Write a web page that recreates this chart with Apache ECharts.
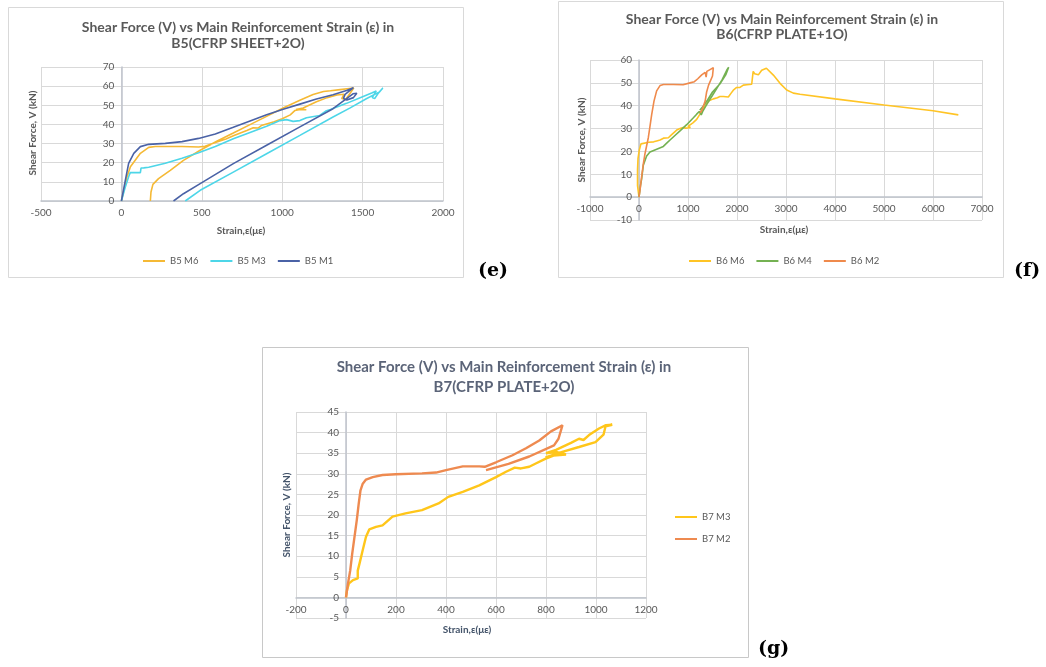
<!DOCTYPE html>
<html>
<head>
<meta charset="utf-8">
<script src="https://cdn.jsdelivr.net/npm/echarts@6/dist/echarts.min.js"></script>
<style>
html,body{margin:0;padding:0;background:#fff;}
#c{width:1046px;height:667px;}
</style>
</head>
<body>
<div id="c"></div>
<script>
// ---------- Panel (e): B5 (CFRP SHEET+2O) ----------
const titleE = "Shear Force (V) vs Main Reinforcement Strain (ε) in\nB5(CFRP SHEET+2O)";
const namesE = ["B5 M6", "B5 M3", "B5 M1"];
const b5M6 = [[0,0],[35,12.7],[56,17.9],[87,21.4],[118,24.9],[170,28],[211,28.5],[300,28.5],[377,28.5],[480,28.2],[520,28.6],[584,30.5],[650,32.4],[700,34.2],[780,36.8],[820,38.3],[850,38.1],[870,39.4],[950,41.4],[1000,43],[1050,45],[1080,47.3],[1120,47.9],[1150,47.7],[1085,47.8],[1130,48.6],[1213,51.8],[1280,54],[1340,55.4],[1385,55.8],[1370,53.5],[1395,53],[1420,56],[1445,59],[1433,58.9],[1360,58.2],[1300,57.6],[1257,57.2],[1192,55.6],[1110,52.6],[1006,48.6],[903,44.2],[800,39.9],[696,35.5],[593,31.2],[490,26.5],[386,21.2],[304,16],[231,11.7],[196,8.7],[184,4.7],[180,0]];
const b5M3 = [[0,0],[25,7.5],[45,12.7],[55,14.8],[87,14.8],[118,14.8],[122,17.2],[128,16.9],[139,17.3],[170,17.6],[273,19.7],[377,22.3],[480,25.2],[584,28.5],[696,32.5],[800,35.8],[903,39],[986,42],[1027,42.5],[1068,41.6],[1110,42],[1151,43.5],[1233,44.7],[1275,47.2],[1300,47.8],[1400,51],[1500,54.5],[1560,56.5],[1585,57.5],[1560,54],[1575,53.5],[1595,56],[1626,59],[1605,57],[1523,53.4],[1420,48.5],[1316,43.9],[1110,34.3],[903,24.7],[696,15.1],[490,5.6],[397,0]];
const b5M1 = [[0,0],[25,11],[45,19.7],[77,24.9],[118,28.4],[170,29.6],[273,30.1],[377,31],[480,32.7],[584,35],[696,38.5],[800,41.8],[903,45],[1006,47.9],[1110,50.6],[1213,53.3],[1316,55.5],[1400,57.7],[1443,59.2],[1391,55.7],[1381,53.6],[1402,52.8],[1443,54],[1464,56.3],[1454,57],[1440,56],[1316,48.2],[1110,38.7],[903,29.1],[696,19.5],[490,9.1],[386,3.8],[324,0]];

// ---------- Panel (f): B6 (CFRP PLATE+1O) ----------
const titleF = "Shear Force (V) vs Main Reinforcement Strain (ε) in\nB6(CFRP PLATE+1O)";
const namesF = ["B6 M6", "B6 M4", "B6 M2"];
const b6M6 = [[0,0],[-30,5],[-30,12],[-20,17],[5,20.5],[40,23.3],[80,24],[200,24],[300,24.2],[360,24.6],[430,25],[500,25.8],[600,26],[650,27],[701,28],[780,29.5],[837,30],[900,30.5],[950,30.2],[1050,30.5],[1000,31],[1100,32.5],[1177,34],[1279,37.5],[1347,39.8],[1415,42],[1517,43],[1600,43.5],[1650,44],[1721,44],[1823,43.8],[1880,45.5],[1925,46.8],[1993,48],[2061,48],[2129,49],[2200,49.2],[2300,49.4],[2333,49.6],[2330,55],[2360,54],[2390,53.5],[2436,53.5],[2504,55.5],[2600,56.4],[2640,56.7],[2742,53.4],[2878,49.8],[3014,46.9],[3150,45.5],[3286,45],[4000,43],[5000,40.3],[6000,37.8],[6517,36]];
const b6M4 = [[0,0],[30,5],[54,8],[88,14],[130,16.5],[156,18],[224,19.8],[361,21],[497,22.2],[560,23.5],[633,25],[750,27.3],[837,29],[973,31.7],[1100,34.5],[1177,36.3],[1230,37.5],[1270,36],[1300,37.5],[1381,40.5],[1500,44.5],[1585,47.5],[1700,51.5],[1790,55.5],[1830,56.8],[1770,53.5],[1650,49.5],[1500,46],[1400,42.5],[1300,39.5],[1240,38]];
const b6M2 = [[0,0],[20,3],[54,9],[88,14.5],[122,19],[156,22.5],[190,26],[224,31],[258,36],[306,42],[360,46.5],[429,48.8],[500,49.3],[700,49.3],[900,49.2],[1041,50],[1130,50.5],[1200,51.8],[1280,53.5],[1350,54.6],[1370,52.5],[1385,55],[1449,55.8],[1517,56.6],[1535,56.5],[1500,53],[1420,49],[1380,46],[1350,42],[1300,39],[1270,37.5],[1240,37]];

// ---------- Panel (g): B7 (CFRP PLATE+2O) ----------
const titleG = "Shear Force (V) vs Main Reinforcement Strain (ε) in\nB7(CFRP PLATE+2O)";
const namesG = ["B7 M3", "B7 M2"];
const b7M3 = [[0,0],[4,1.8],[12,3.4],[28,4.2],[47,4.6],[53,4.8],[47,6.5],[54,8.2],[67,11.5],[80,14.7],[93,16.5],[120,17.1],[146,17.5],[186,19.6],[238,20.4],[304,21.2],[370,22.8],[409,24.4],[467,25.6],[533,27.2],[600,29.2],[640,30.5],[675,31.5],[700,31.3],[733,31.7],[759,32.5],[799,33.7],[830,34.4],[880,34.7],[840,35.3],[800,35],[840,35.8],[900,37.5],[932,38.5],[950,38.2],[972,39.4],[1012,41],[1040,41.8],[1065,41.9],[1038,41.5],[1030,39.5],[998,37.7],[932,36.5],[865,35.3],[798,34]];
const b7M2 = [[0,0],[8,3.4],[17,6.6],[25,10.7],[34,14.7],[43,18.7],[51,22.8],[58,26],[67,27.6],[80,28.6],[107,29.2],[146,29.7],[199,29.9],[304,30.1],[360,30.3],[400,30.9],[467,31.8],[533,31.8],[555,31.7],[600,32.8],[666,34.5],[720,36.2],[773,38.1],[820,40.3],[866,41.8],[850,38.5],[832,36.9],[733,34.2],[650,32.4],[560,30.9]];

const axisNameX = "Strain,ε(με)";
const axisNameY = "Shear Force, V (kN)";

const FONT = "Lato";
const TXT = "#595959";
const GRID = "#D9D9D9";
const AXL = "#BFC3CC";

function xAx(gi, min, max, itv, off) {
  return {
    type: 'value', gridIndex: gi, min: min, max: max, interval: itv, offset: off,
    axisLine: {show: true, onZero: false, lineStyle: {color: AXL, width: 1.5}},
    axisTick: {show: false},
    axisLabel: {fontFamily: FONT, fontSize: 10, color: TXT, margin: 7, formatter: v => String(v)},
    splitLine: {show: true, lineStyle: {color: GRID, width: 1}}
  };
}
function yAx(gi, min, max, itv, off) {
  return {
    type: 'value', gridIndex: gi, min: min, max: max, interval: itv, offset: off,
    axisLine: {show: true, onZero: false, lineStyle: {color: AXL, width: 1.5}},
    axisTick: {show: false},
    axisLabel: {fontFamily: FONT, fontSize: 10, color: TXT, margin: 7, formatter: v => String(v)},
    splitLine: {show: true, lineStyle: {color: GRID, width: 1}}
  };
}
function ser(name, data, gi, color, w) {
  return {
    name: name, type: 'line', xAxisIndex: gi, yAxisIndex: gi, data: data,
    symbol: 'none', showSymbol: false, smooth: false, animation: false,
    lineStyle: {color: color, width: w}, itemStyle: {color: color}
  };
}
function ttl(text, x, y, size, lh, color) {
  return {
    text: text, left: x, top: y, textAlign: 'center', padding: 0,
    textStyle: {fontFamily: FONT, fontWeight: 'bold', fontSize: size, lineHeight: lh, color: color || TXT}
  };
}
function lgd(names, left, top, orient, gap) {
  return {
    data: names, left: left, top: top, orient: orient, itemGap: gap, padding: 0,
    itemWidth: 22, itemHeight: 10,
    itemStyle: {opacity: 0},
    textStyle: {fontFamily: FONT, fontSize: 9.5, color: TXT}
  };
}
function nameX(text, x, y, color) {
  return {type: 'text', x: x, y: y, style: {text: text, fill: color || TXT, font: 'bold 10px Lato', textAlign: 'center', textVerticalAlign: 'middle'}};
}
function nameY(text, x, y, color) {
  return {type: 'text', x: x, y: y, rotation: Math.PI / 2, style: {text: text, fill: color || TXT, font: 'bold 10px Lato', textAlign: 'center', textVerticalAlign: 'middle'}};
}

const chart = echarts.init(document.getElementById('c'), null, {renderer: 'canvas'});
chart.setOption({
  backgroundColor: '#ffffff',
  animation: false,
  title: [
    ttl(titleE, 238, 19, 14, 16),
    ttl(titleF, 782, 12, 14, 15),
    ttl(titleG, 504, 357, 15, 20, '#5B6478')
  ],
  legend: [
    lgd(namesE, 142, 256, 'horizontal', 11),
    lgd(namesF, 688, 256, 'horizontal', 11),
    lgd(namesG, 674, 512, 'vertical', 12)
  ],
  grid: [
    {left: 41, top: 67, width: 402, height: 134, containLabel: false, outerBoundsMode: 'none'},
    {left: 590, top: 60, width: 392, height: 160, containLabel: false, outerBoundsMode: 'none'},
    {left: 296, top: 412, width: 350, height: 206, containLabel: false, outerBoundsMode: 'none'}
  ],
  xAxis: [
    xAx(0, -500, 2000, 500, 0),
    xAx(1, -1000, 7000, 1000, -22.9),
    xAx(2, -200, 1200, 200, -20.6)
  ],
  yAxis: [
    yAx(0, 0, 70, 10, -80.4),
    yAx(1, -10, 60, 10, -49),
    yAx(2, -5, 45, 5, -50)
  ],
  series: [
    ser(namesE[0], b5M6, 0, '#F5B935', 1.6),
    ser(namesE[1], b5M3, 0, '#4DD6E8', 1.6),
    ser(namesE[2], b5M1, 0, '#4A62A6', 1.6),
    ser(namesF[0], b6M6, 1, '#FFC425', 1.6),
    ser(namesF[1], b6M4, 1, '#74B152', 1.6),
    ser(namesF[2], b6M2, 1, '#EF8A4C', 1.6),
    ser(namesG[0], b7M3, 2, '#FFC61A', 2.4),
    ser(namesG[1], b7M2, 2, '#EE8A50', 2.4)
  ],
  graphic: [
    {type: 'rect', shape: {x: 8.5, y: 7.5, width: 455, height: 270}, style: {fill: null, stroke: '#D9D9D9', lineWidth: 1}, z: -10},
    {type: 'rect', shape: {x: 558.5, y: 1.5, width: 445, height: 276}, style: {fill: null, stroke: '#D9D9D9', lineWidth: 1}, z: -10},
    {type: 'rect', shape: {x: 262.5, y: 347.5, width: 486, height: 310}, style: {fill: null, stroke: '#C8C8C8', lineWidth: 1}, z: -10},
    nameX(axisNameX, 241, 231),
    nameY(axisNameY, 33, 133),
    nameX(axisNameX, 784, 230),
    nameY(axisNameY, 582, 140),
    nameX(axisNameX, 467, 630, '#44546A'),
    nameY(axisNameY, 287, 515, '#44546A'),
    {type: 'text', x: 478, y: 262, style: {text: '(e)', font: 'bold 19px "DejaVu Serif"', fill: '#000'}},
    {type: 'text', x: 1014, y: 262, style: {text: '(f)', font: 'bold 19px "DejaVu Serif"', fill: '#000'}},
    {type: 'text', x: 758, y: 640, style: {text: '(g)', font: 'bold 19px "DejaVu Serif"', fill: '#000'}}
  ]
});
</script>
</body>
</html>
